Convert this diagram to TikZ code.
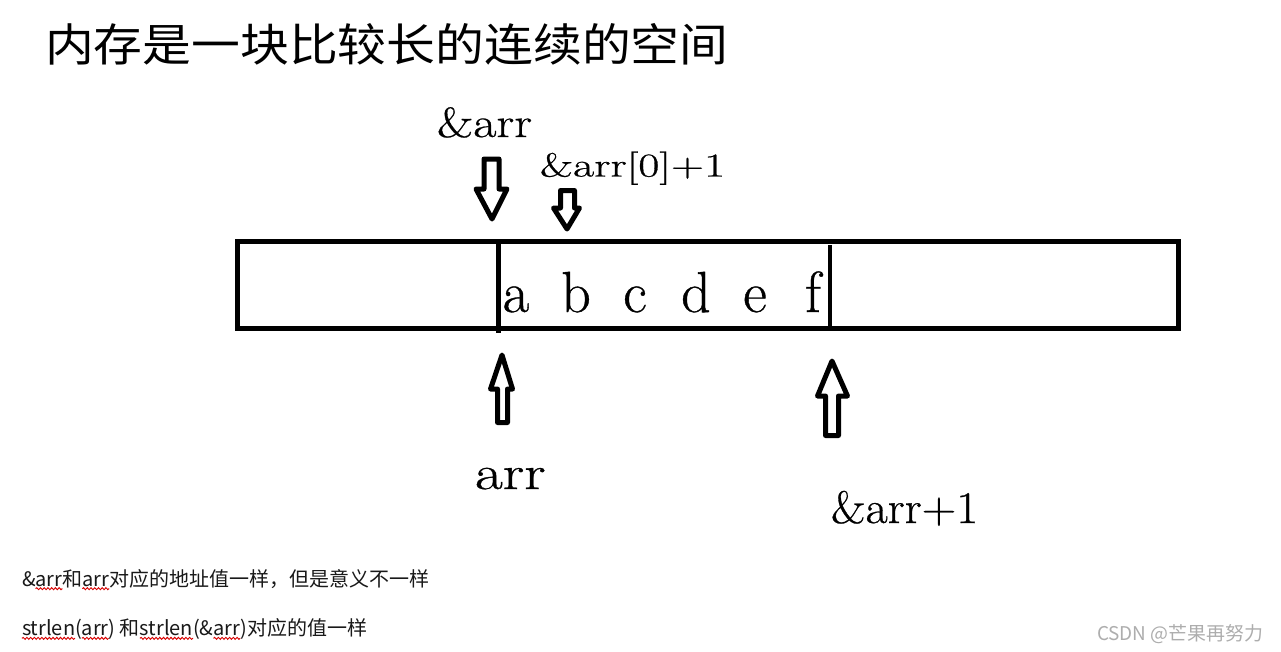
\documentclass[tikz,border=0pt]{standalone}
\usepackage{fontspec}
\usepackage{graphicx}
\newfontfamily\cjk{Noto Sans CJK SC}
\newfontfamily\heavy[FakeBold=0.6]{Latin Modern Roman}
\usetikzlibrary{decorations.pathmorphing}
\tikzset{
  lbl/.style={inner sep=0pt, outer sep=0pt, anchor=base west},
  cell/.style={inner sep=0pt, outer sep=0pt, anchor=base, font=\heavy\fontsize{43.5pt}{50pt}\selectfont},
  hollow/.style={draw=black, line width=3.75pt, line join=round, fill=white},
  boxline/.style={draw=black, line width=3.75pt},
  divline/.style={draw=black, line width=3.2pt},
  note/.style={inner sep=0pt, outer sep=0pt, anchor=base west, font=\cjk\fontsize{15pt}{18pt}\selectfont, text=black!90},
  squig/.style={draw=red!85!black, line width=0.7pt, decorate, decoration={snake, amplitude=0.75pt, segment length=2.8pt}}
}
\begin{document}
\begin{tikzpicture}[x=0.75pt, y=-0.75pt]
\fill[white] (0,0) rectangle (1281,651);
\useasboundingbox (0,0) rectangle (1281,651);

% title
\node[lbl, font=\cjk\fontsize{33.75pt}{40pt}\selectfont] (title) at (45,61)
  {\scalebox{1.085}[1]{内存是一块比较长的连续的空间}};

% memory strip
\draw[boxline] (237.5,241.5) rectangle (1178.5,328.5);
\draw[divline] (498.5,241) -- (498.5,333);
\draw[divline] (830,245) -- (830,328.5);

% characters
\node[cell] (ca) at (516,312) {a};
\node[cell] (cb) at (576,312) {b};
\node[cell] (cc) at (635,312) {c};
\node[cell] (cd) at (696,312) {d};
\node[cell] (ce) at (755,312) {e};
\node[cell] (cf) at (813,312) {f};

% hollow arrows
\draw[hollow] (484,159) -- (499,159) -- (499,189) -- (507,189) -- (492,219) -- (476,189) -- (484,189) -- cycle;
\draw[hollow] (560.5,190.5) -- (574.5,190.5) -- (574.5,208) -- (579.5,208) -- (567,229) -- (553.5,208) -- (560.5,208) -- cycle;
\draw[hollow] (502,355) -- (512.5,389) -- (507.5,389) -- (507.5,422.5) -- (497.5,422.5) -- (497.5,389) -- (490.5,389) -- cycle;
\draw[hollow] (832,361) -- (847.5,396) -- (838.5,396) -- (838.5,435.5) -- (825.5,435.5) -- (825.5,396) -- (817.5,396) -- cycle;

% pointer labels
\node[lbl, font=\heavy\fontsize{31.5pt}{36pt}\selectfont] (laddr) at (437,137) {\scalebox{1.2}[1]{\&arr}};
\node[lbl, font=\heavy\fontsize{25pt}{29pt}\selectfont] (lelem) at (540,176.5) {\scalebox{1.38}[1]{\&arr[0]+1}};
\node[lbl, font=\heavy\fontsize{36pt}{41pt}\selectfont] (larr) at (475,489) {\scalebox{1.26}[1]{arr}};
\node[lbl, font=\heavy\fontsize{34pt}{39pt}\selectfont] (lnext) at (831,523) {\scalebox{1.06}[1]{\&arr+1}};

% notes line 1
\node[note] (n1a) at (22,586) {\&};
\node[note] (n1b) at (n1a.base east) {arr};
\node[note] (n1c) at (n1b.base east) {和};
\node[note] (n1d) at (n1c.base east) {arr};
\node[note] (n1e) at (n1d.base east) {对应的地址值一样，但是意义不一样};
\draw[squig] ([yshift=-2pt]n1b.base west) -- ([yshift=-2pt]n1b.base east);
\draw[squig] ([yshift=-2pt]n1d.base west) -- ([yshift=-2pt]n1d.base east);

% notes line 2
\node[note] (n2a) at (22,635) {strlen};
\node[note] (n2b) at (n2a.base east) {(};
\node[note] (n2c) at (n2b.base east) {arr};
\node[note] (n2d) at (n2c.base east) {) 和};
\node[note] (n2e) at (n2d.base east) {strlen};
\node[note] (n2f) at (n2e.base east) {(\&};
\node[note] (n2g) at (n2f.base east) {arr};
\node[note] (n2h) at (n2g.base east) {)对应的值一样};
\draw[squig] ([yshift=-2.5pt]n2a.base west) -- ([yshift=-2.5pt]n2a.base east);
\draw[squig] ([yshift=-2.5pt]n2c.base west) -- ([yshift=-2.5pt]n2c.base east);
\draw[squig] ([yshift=-2.5pt]n2e.base west) -- ([yshift=-2.5pt]n2e.base east);
\draw[squig] ([yshift=-2.5pt]n2g.base west) -- ([yshift=-2.5pt]n2g.base east);

% watermark
\node[lbl, font=\cjk\fontsize{14.2pt}{17pt}\selectfont, text=black!32] (wm) at (1097,640) {CSDN @芒果再努力};
\end{tikzpicture}
\end{document}
